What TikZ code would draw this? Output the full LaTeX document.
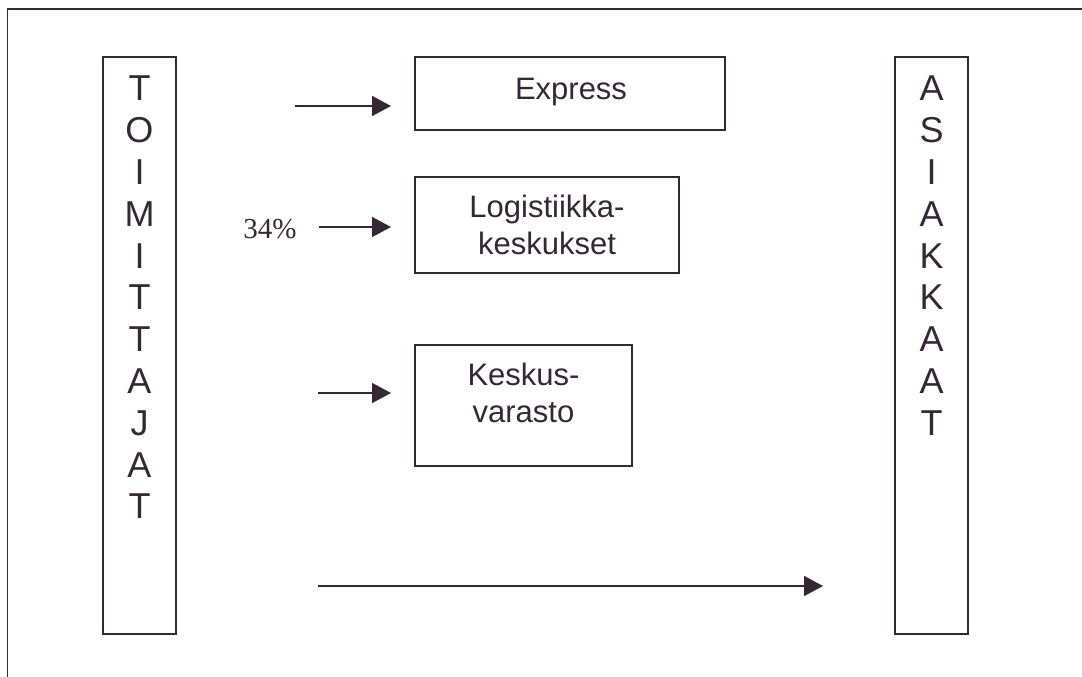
\documentclass[tikz,border=0pt]{standalone}
\usepackage{fontspec}
\setmainfont{Liberation Sans}
\newfontfamily\timesf{Liberation Serif}
\usetikzlibrary{arrows.meta}
\definecolor{ink}{RGB}{52,40,52}
\begin{document}
\begin{tikzpicture}[x=1pt,y=-1pt,
  box/.style={draw=ink,line width=1.6pt,inner sep=0pt},
  lbl/.style={text=ink,font=\fontsize{31}{36.5}\selectfont,align=center,inner sep=0pt,anchor=north},
  vlbl/.style={text=ink,font=\fontsize{36}{41.8}\selectfont,align=center,anchor=north,inner sep=0pt},
  arr/.style={draw=ink,line width=1.5pt,-{Triangle[length=19pt,width=20pt]}}]
\useasboundingbox (0,0) rectangle (1082,677);
% frame
\coordinate (fbl) at (7.5,677);
\coordinate (ftl) at (7.5,9);
\coordinate (ftr) at (1082,9);
\draw[ink,line width=1.8pt] (fbl) -- (ftl) -- (ftr);
% side boxes
\node[box,minimum width=73,minimum height=577] (sup) at (139.5,345.5) {};
\node[vlbl] (suptxt) at (139.5,76) {T\\O\\I\\M\\I\\T\\T\\A\\J\\A\\T};
\node[box,minimum width=73,minimum height=577] (cus) at (931.5,345.5) {};
\node[vlbl] (custxt) at (931.5,76) {A\\S\\I\\A\\K\\K\\A\\A\\T};
% middle boxes
\node[box,minimum width=310,minimum height=73] (express) at (570,93.5) {};
\node[lbl] (exptxt) at (571,78) {Express};
\node[box,minimum width=264,minimum height=96] (logi) at (547,225) {};
\node[lbl] (logitxt) at (547,195) {Logistiikka-\\keskukset};
\node[box,minimum width=217,minimum height=121] (kesk) at (523.5,405.5) {};
\node[lbl] (kesktxt) at (523.5,363) {Keskus-\\varasto};
% percent label
\node[text=ink,font=\timesf\fontsize{29}{31}\selectfont,inner sep=0pt] (pct) at (270,229) {34\%};
% arrows
\coordinate (a1s) at (295,106);  \coordinate (a1e) at (391,106);
\coordinate (a2s) at (319,227);  \coordinate (a2e) at (391,227);
\coordinate (a3s) at (318,393);  \coordinate (a3e) at (391,393);
\coordinate (a4s) at (318,586);  \coordinate (a4e) at (823,586);
\draw[arr] (a1s) -- (a1e);
\draw[arr] (a2s) -- (a2e);
\draw[arr] (a3s) -- (a3e);
\draw[arr] (a4s) -- (a4e);
\end{tikzpicture}
\end{document}
